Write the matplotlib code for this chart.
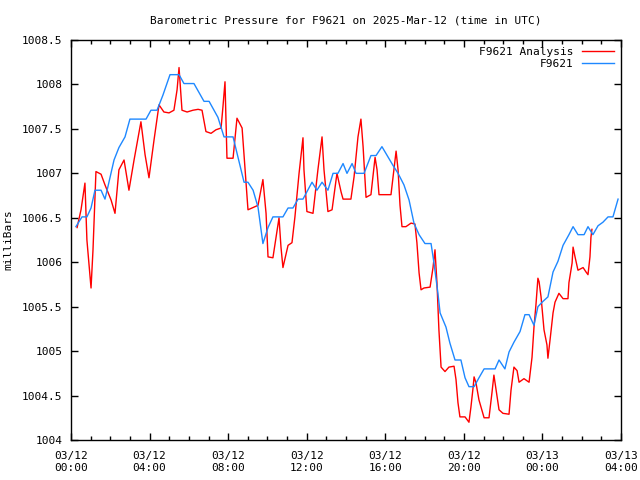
import matplotlib
matplotlib.use("Agg")
import matplotlib.pyplot as plt
from matplotlib.ticker import MultipleLocator

plt.rcParams['font.family'] = ['DejaVu Sans Mono']
plt.rcParams['font.size'] = 8

# hours since 2025-03-12 00:00 UTC
analysis_hours = [0.31, 0.51, 0.71, 0.81, 0.92, 1.02, 1.12, 1.27, 1.53, 1.73, 2.04, 2.24, 2.44, 2.70, 2.95,
                  3.21, 3.56, 3.77, 3.97, 4.23, 4.48, 4.73, 4.99, 5.24, 5.40, 5.50, 5.65, 5.91, 6.21, 6.47,
                  6.67, 6.87, 7.13, 7.38, 7.64, 7.74, 7.84, 7.94, 8.25, 8.45, 8.71, 8.91, 9.01, 9.52, 9.77,
                  9.93, 10.03, 10.28, 10.44, 10.59, 10.69, 10.79, 11.05, 11.25, 11.40, 11.61, 11.81, 11.86,
                  12.01, 12.32, 12.57, 12.78, 12.88, 13.08, 13.29, 13.54, 13.75, 13.85, 14.25, 14.41, 14.61,
                  14.76, 14.87, 15.02, 15.27, 15.48, 15.58, 15.68, 16.29, 16.44, 16.55, 16.65, 16.75, 16.85,
                  17.05, 17.31, 17.51, 17.61, 17.72, 17.82, 17.97, 18.28, 18.43, 18.53, 18.63, 18.68, 18.73,
                  18.84, 19.04, 19.24, 19.50, 19.60, 19.70, 19.80, 20.06, 20.26, 20.36, 20.47, 20.52, 20.62,
                  20.77, 21.03, 21.28, 21.43, 21.53, 21.79, 21.99, 22.30, 22.40, 22.55, 22.71, 22.81, 23.06,
                  23.32, 23.47, 23.57, 23.67, 23.77, 23.83, 23.93, 24.08, 24.23, 24.28, 24.39, 24.54, 24.64,
                  24.84, 25.05, 25.30, 25.35, 25.51, 25.56, 25.66, 25.81, 26.07, 26.22, 26.32, 26.42, 26.47,
                  26.52]
analysis_mb = [1006.39, 1006.59, 1006.89, 1006.25, 1005.97, 1005.71, 1006.14, 1007.02, 1006.99, 1006.87,
               1006.70, 1006.55, 1007.04, 1007.15, 1006.81, 1007.15, 1007.58, 1007.21, 1006.95, 1007.38,
               1007.77, 1007.69, 1007.68, 1007.71, 1007.94, 1008.19, 1007.71, 1007.69, 1007.71, 1007.72,
               1007.71, 1007.47, 1007.45, 1007.49, 1007.51, 1007.76, 1008.03, 1007.17, 1007.17, 1007.62,
               1007.51, 1006.89, 1006.59, 1006.64, 1006.93, 1006.55, 1006.06, 1006.05, 1006.28, 1006.50,
               1006.17, 1005.94, 1006.19, 1006.22, 1006.51, 1007.00, 1007.40, 1007.04, 1006.57, 1006.55,
               1007.04, 1007.41, 1007.04, 1006.57, 1006.59, 1007.00, 1006.79, 1006.71, 1006.71, 1006.96,
               1007.41, 1007.61, 1007.30, 1006.73, 1006.76, 1007.18, 1007.04, 1006.76, 1006.76, 1007.04,
               1007.25, 1007.04, 1006.64, 1006.40, 1006.40, 1006.44, 1006.43, 1006.22, 1005.88, 1005.69,
               1005.71, 1005.72, 1005.94, 1006.14, 1005.77, 1005.50, 1005.24, 1004.82, 1004.77, 1004.82,
               1004.83, 1004.68, 1004.42, 1004.26, 1004.26, 1004.20, 1004.37, 1004.59, 1004.71, 1004.64,
               1004.45, 1004.25, 1004.25, 1004.53, 1004.73, 1004.34, 1004.30, 1004.29, 1004.56, 1004.82,
               1004.78, 1004.65, 1004.69, 1004.65, 1004.93, 1005.27, 1005.52, 1005.82, 1005.78, 1005.61,
               1005.24, 1005.07, 1004.92, 1005.13, 1005.43, 1005.55, 1005.65, 1005.59, 1005.59, 1005.77,
               1005.99, 1006.17, 1006.06, 1005.91, 1005.94, 1005.89, 1005.86, 1006.06, 1006.28, 1006.37]

station_hours = [0.25, 0.56, 0.81, 1.02, 1.22, 1.53, 1.73, 1.88, 2.19, 2.44, 2.75, 3.00, 3.82, 4.07, 4.38,
                 4.68, 5.04, 5.50, 5.75, 6.26, 6.77, 7.03, 7.48, 7.79, 8.25, 8.81, 9.01, 9.27, 9.52, 9.77,
                 10.03, 10.28, 10.79, 11.05, 11.30, 11.56, 11.81, 12.27, 12.52, 12.78, 13.08, 13.34, 13.59,
                 13.85, 14.05, 14.31, 14.51, 14.92, 15.27, 15.53, 15.83, 16.39, 16.65, 16.95, 17.21, 17.46,
                 17.72, 18.02, 18.33, 18.48, 18.68, 18.79, 19.09, 19.29, 19.55, 19.85, 20.06, 20.26, 20.52,
                 20.77, 21.03, 21.59, 21.79, 22.09, 22.30, 22.55, 22.86, 23.11, 23.32, 23.57, 23.77, 24.03,
                 24.28, 24.54, 24.79, 25.05, 25.35, 25.56, 25.81, 26.12, 26.32, 26.57, 26.83, 27.08, 27.34,
                 27.59, 27.85]
station_mb = [1006.40, 1006.51, 1006.51, 1006.61, 1006.81, 1006.81, 1006.71, 1006.85, 1007.15, 1007.29,
              1007.41, 1007.61, 1007.61, 1007.71, 1007.71, 1007.88, 1008.11, 1008.11, 1008.01, 1008.01,
              1007.81, 1007.81, 1007.63, 1007.41, 1007.41, 1006.90, 1006.90, 1006.81, 1006.62, 1006.21,
              1006.39, 1006.51, 1006.51, 1006.61, 1006.61, 1006.71, 1006.71, 1006.90, 1006.81, 1006.90,
              1006.81, 1007.00, 1007.00, 1007.11, 1007.00, 1007.11, 1007.00, 1007.00, 1007.20, 1007.20,
              1007.30, 1007.09, 1007.00, 1006.87, 1006.70, 1006.44, 1006.31, 1006.21, 1006.21, 1005.99,
              1005.65, 1005.43, 1005.27, 1005.09, 1004.90, 1004.90, 1004.70, 1004.60, 1004.60, 1004.70,
              1004.80, 1004.80, 1004.90, 1004.80, 1004.99, 1005.10, 1005.22, 1005.41, 1005.41, 1005.29,
              1005.50, 1005.56, 1005.61, 1005.89, 1006.01, 1006.19, 1006.31, 1006.40, 1006.31, 1006.31,
              1006.40, 1006.31, 1006.41, 1006.45, 1006.51, 1006.51, 1006.71]

x_tick_hours = [0, 4, 8, 12, 16, 20, 24, 28]
x_tick_labels = ["03/12\n00:00", "03/12\n04:00", "03/12\n08:00", "03/12\n12:00",
                 "03/12\n16:00", "03/12\n20:00", "03/13\n00:00", "03/13\n04:00"]
y_ticks = [1004, 1004.5, 1005, 1005.5, 1006, 1006.5, 1007, 1007.5, 1008, 1008.5]
y_tick_labels = ["1004", "1004.5", "1005", "1005.5", "1006", "1006.5", "1007", "1007.5", "1008", "1008.5"]

fig = plt.figure(figsize=(6.4, 4.8), dpi=100)
ax = fig.add_axes([71/640, 40/480, 550/640, 400/480])

ax.plot(analysis_hours, analysis_mb, color='#ff0000', lw=1.0, label='F9621 Analysis')
ax.plot(station_hours, station_mb, color='#1e88ff', lw=1.0, label='F9621')

ax.set_xlim(0, 28)
ax.set_ylim(1004, 1008.5)
ax.set_xticks(x_tick_hours)
ax.set_xticklabels(x_tick_labels)
ax.xaxis.set_minor_locator(MultipleLocator(1))
ax.set_yticks(y_ticks)
ax.set_yticklabels(y_tick_labels)

ax.tick_params(which='both', direction='in', top=True, right=True, color='black', labelsize=8)
ax.tick_params(axis='x', pad=8)
ax.tick_params(axis='y', pad=6)
ax.tick_params(which='major', length=5, width=1)
ax.tick_params(which='minor', length=3, width=1)
for s in ax.spines.values():
    s.set_linewidth(1.0)

ax.set_ylabel('milliBars', fontsize=8, labelpad=6)
ax.set_title('Barometric Pressure for F9621 on 2025-Mar-12 (time in UTC)', fontsize=8, pad=12)

leg = ax.legend(loc='upper right', frameon=False, markerfirst=False, fontsize=8,
                handlelength=2.9, handletextpad=0.8, borderaxespad=0.2, labelspacing=0.2)
for t in leg.get_texts():
    t.set_ha('right')
for h in leg.get_lines():
    h.set_linewidth(1.0)

fig.savefig('out.png', dpi=100)
